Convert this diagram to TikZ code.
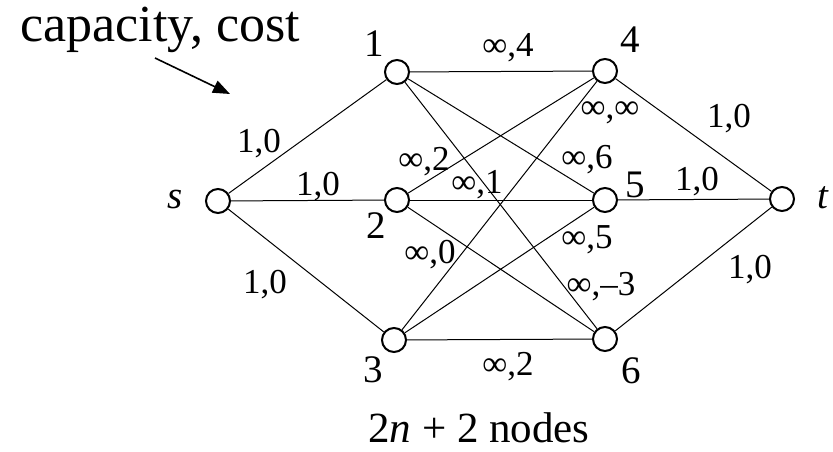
\documentclass[tikz,border=0pt]{standalone}
\usepackage{fontspec}
\setmainfont{Liberation Serif}
\usetikzlibrary{arrows.meta}
\begin{document}
\begin{tikzpicture}[x=1pt,y=-1pt,
  vert/.style={circle,draw,line width=2pt,minimum size=24pt,inner sep=0pt},
  num/.style={anchor=base,inner sep=0pt,font=\fontsize{39}{39}\selectfont},
  lab/.style={anchor=base,inner sep=0pt,font=\fontsize{35}{35}\selectfont},
  edge/.style={line width=1pt}]
\useasboundingbox (0,0) rectangle (833,452);
% vertices
\node[vert] (s) at (218,201) {};
\node[vert] (v1) at (397,72) {};
\node[vert] (v2) at (397,200) {};
\node[vert] (v3) at (394,340) {};
\node[vert] (v4) at (605,71) {};
\node[vert] (v5) at (605,200) {};
\node[vert] (v6) at (605,339) {};
\node[vert] (t) at (782,199) {};
% vertex names
\node[num] (ls) at (175,208) {\textit{s}};
\node[num] (lt) at (823,208) {\textit{t}};
\node[num] (l1) at (374,57) {1};
\node[num] (l2) at (376,238) {2};
\node[num] (l3) at (373,382) {3};
\node[num] (l4) at (630,53) {4};
\node[num] (l5) at (635,197) {5};
\node[num] (l6) at (631,383) {6};
% edges
\draw[edge] (s) -- (v1);
\draw[edge] (s) -- (v2);
\draw[edge] (s) -- (v3);
\draw[edge] (v1) -- (v4);
\draw[edge] (v1) -- (v5);
\draw[edge] (v1) -- (v6);
\draw[edge] (v2) -- (v4);
\draw[edge] (v2) -- (v5);
\draw[edge] (v2) -- (v6);
\draw[edge] (v3) -- (v4);
\draw[edge] (v3) -- (v5);
\draw[edge] (v3) -- (v6);
\draw[edge] (v4) -- (t);
\draw[edge] (v5) -- (t);
\draw[edge] (v6) -- (t);
% capacity, cost labels
\node[lab] (cs1) at (259,152) {1,0};
\node[lab] (cs2) at (318,195) {1,0};
\node[lab] (cs3) at (265,293) {1,0};
\node[lab] (c14) at (508,57) {∞,4};
\node[lab] (c34) at (610,118) {∞,∞};
\node[lab] (c24) at (424,170) {∞,2};
\node[lab] (c25) at (477,193) {∞,1};
\node[lab] (c15) at (587,168) {∞,6};
\node[lab] (c35) at (587,248) {∞,5};
\node[lab] (c26) at (430,263) {∞,0};
\node[lab] (c16) at (601,295) {∞,–3};
\node[lab] (c36) at (508,375) {∞,2};
\node[lab] (c4t) at (729,127) {1,0};
\node[lab] (c5t) at (697,190) {1,0};
\node[lab] (c6t) at (750,278) {1,0};
% legend
\node[anchor=base,inner sep=0pt,font=\fontsize{52}{52}\selectfont] (legend) at (160,42) {capacity, cost};
\coordinate (arrA) at (155,58);
\coordinate (arrB) at (230,94);
\draw[line width=1.6pt,-{Triangle[length=17pt,width=13pt]}] (arrA) -- (arrB);
\node[anchor=base,inner sep=0pt,font=\fontsize{43}{43}\selectfont] (count) at (479,442) {2\textit{n} + 2 nodes};
\end{tikzpicture}
\end{document}
